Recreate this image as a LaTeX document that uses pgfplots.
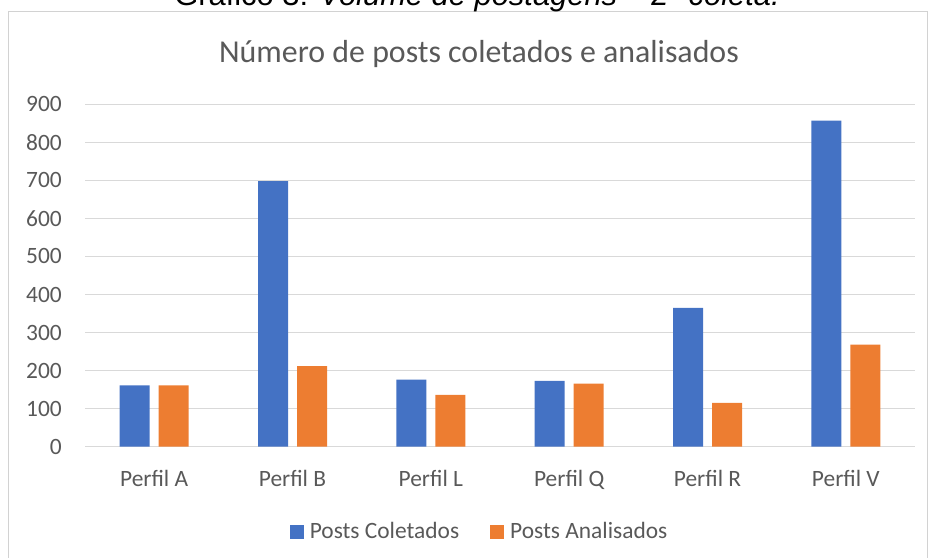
\documentclass[border=0pt]{standalone}
\usepackage{fontspec}
\setmainfont{Carlito}
\newfontfamily\arial{Liberation Sans}
\usepackage{pgfplots}
\pgfplotsset{compat=1.18}
\definecolor{cblue}{RGB}{68,114,196}
\definecolor{corange}{RGB}{237,125,49}
\definecolor{txt}{RGB}{89,89,89}
\definecolor{gridc}{RGB}{217,217,217}
\definecolor{framec}{RGB}{210,210,210}
\pgfplotsset{sq legend/.style={legend image code/.code={\fill[##1] (0bp,-7bp) rectangle (14bp,7bp);}}}
\begin{document}
\begin{tikzpicture}[x=1bp,y=1bp]
\useasboundingbox (0,0) rectangle (931,558);
\draw[framec, line width=1bp] (8.5,-2) rectangle (927,546);
\node[anchor=base, font=\arial\fontsize{31}{31}\selectfont, inner sep=0pt] at (477,552) {Gráfico 3: \textit{Volume de postagens – 2ª coleta.}};
\node[anchor=base, font=\fontsize{32}{32}\selectfont, text=txt, inner sep=0pt] at (479,495) {Número de posts coletados e analisados};
\begin{axis}[
  at={(85bp,111.3bp)}, anchor=south west,
  scale only axis, width=830bp, height=342.4bp,
  ymin=0, ymax=900, xmin=-0.5, xmax=5.5,
  ytick={0,100,...,900},
  xtick={0,1,2,3,4,5},
  xticklabels={Perfil A,Perfil B,Perfil L,Perfil Q,Perfil R,Perfil V},
  /pgf/number format/assume math mode=true,
  axis line style={draw=none},
  major tick length=0pt,
  ymajorgrids,
  grid style={gridc, line width=1bp},
  ybar=9bp, bar width=30bp,
  tick label style={font=\fontsize{23.5}{23.5}\selectfont, text=txt},
  yticklabel style={anchor=east, inner sep=0pt, xshift=-23bp},
  xticklabel style={anchor=base, inner sep=0pt, yshift=-40bp},
  legend columns=2,
  legend style={at={(0.476,-0.2477)}, anchor=center, draw=none, fill=none,
    font=\fontsize{23.5}{23.5}\selectfont, text=txt,
    nodes={inner sep=3bp},
    /tikz/every odd column/.append style={column sep=3bp},
    /tikz/every even column/.append style={column sep=28bp}},
]
\addplot[fill=cblue, draw=none, sq legend] coordinates {(0,161) (1,698) (2,176) (3,173) (4,365) (5,857)};
\addplot[fill=corange, draw=none, sq legend] coordinates {(0,161) (1,212) (2,136) (3,166) (4,115) (5,268)};
\legend{Posts Coletados, Posts Analisados}
\end{axis}
\end{tikzpicture}
\end{document}
